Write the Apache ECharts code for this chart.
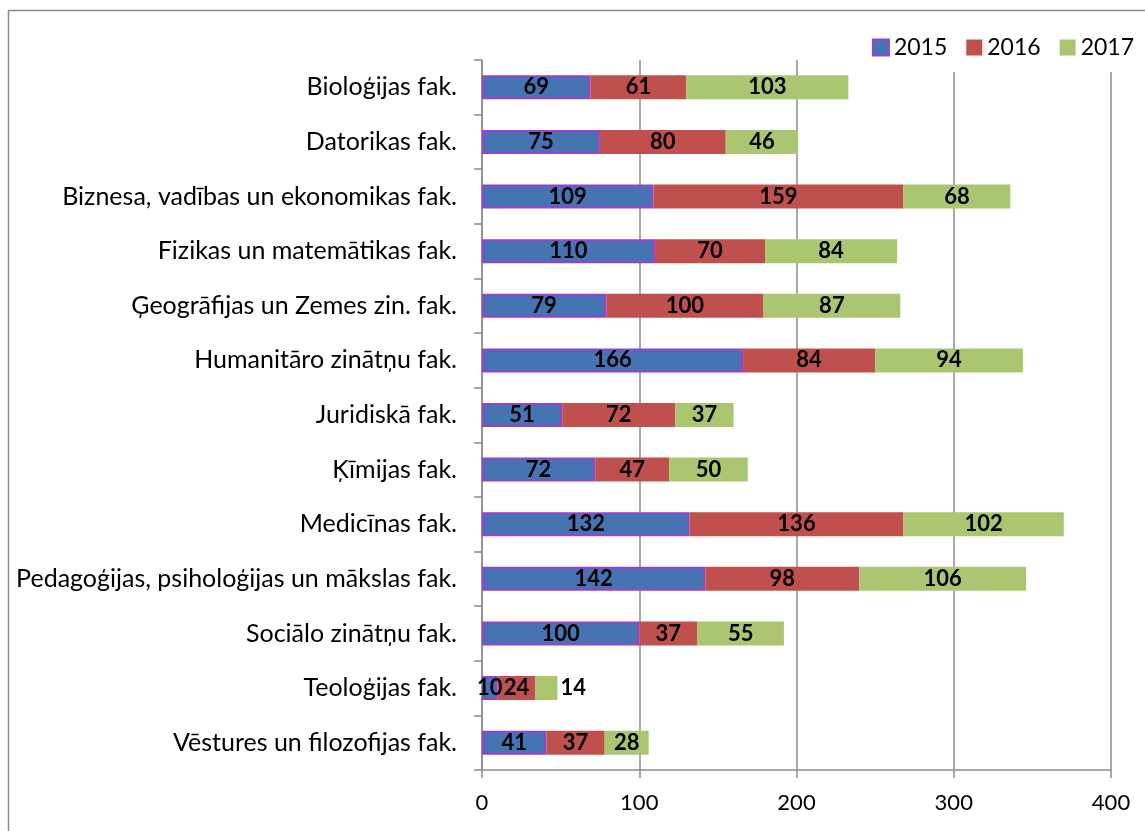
<!DOCTYPE html>
<html>
<head>
<meta charset="utf-8">
<script src="https://cdn.jsdelivr.net/npm/echarts@6/dist/echarts.min.js"></script>
<style>
  html, body { margin: 0; padding: 0; background: #fff; }
  #chart { width: 1145px; height: 831px; }
</style>
</head>
<body>
<div id="chart"></div>
<script>
// faculties, top to bottom
var categories = [
  'Bioloģijas fak.',
  'Datorikas fak.',
  'Biznesa, vadības un ekonomikas fak.',
  'Fizikas un matemātikas fak.',
  'Ģeogrāfijas un Zemes zin. fak.',
  'Humanitāro zinātņu fak.',
  'Juridiskā fak.',
  'Ķīmijas fak.',
  'Medicīnas fak.',
  'Pedagoģijas, psiholoģijas un mākslas fak.',
  'Sociālo zinātņu fak.',
  'Teoloģijas fak.',
  'Vēstures un filozofijas fak.'
]
var years = ['2015', '2016', '2017']
var values2015 = [69, 75, 109, 110, 79, 166, 51, 72, 132, 142, 100, 10, 41]
var values2016 = [61, 80, 159, 70, 100, 84, 72, 47, 136, 98, 37, 24, 37]
var values2017 = [103, 46, 68, 84, 87, 94, 37, 50, 102, 106, 55, 14, 28]
var xTicks = [0, 100, 200, 300, 400]

var colors = ['#4674B3', '#C0504D', '#AAC670']
var font = 'Lato, "Liberation Sans", sans-serif'
var axisGray = '#8C8C8C'

var chart = echarts.init(document.getElementById('chart'))

function makeSeries(name, values, i) {
  return {
    name: name,
    type: 'bar',
    stack: 'total',
    barWidth: 24,
    itemStyle: i === 0
      ? { color: colors[i], borderColor: '#9B3FD0', borderWidth: 2 }
      : { color: colors[i] },
    label: {
      show: true,
      position: 'inside',
      color: '#000',
      fontFamily: font,
      fontWeight: 'bold',
      fontSize: 22
    },
    data: values.map(function (v) {
      // tiny last segment: Excel pushed the label outside
      if (i === 2 && v < 20) {
        return { value: v, label: { position: 'right', distance: 3 } }
      }
      return v
    })
  }
}

chart.setOption({
  backgroundColor: '#fff',
  animation: false,
  textStyle: { fontFamily: font },
  graphic: [{
    type: 'rect',
    shape: { x: 8.5, y: 10.5, width: 1200, height: 900 },
    style: { fill: 'none', stroke: '#8C8C8C', lineWidth: 1.5 },
    z: -10
  }],
  legend: {
    data: years,
    right: 0,
    top: 28,
    padding: [8, 11, 13, 12],
    backgroundColor: '#fff',
    icon: 'rect',
    itemWidth: 16,
    itemHeight: 16,
    itemGap: 19,
    textStyle: { fontSize: 23, color: '#000', fontFamily: font }
  },
  grid: {
    left: 482,
    right: 34,
    top: 60,
    bottom: 61,
    containLabel: false
  },
  xAxis: {
    type: 'value',
    min: xTicks[0],
    max: xTicks[xTicks.length - 1],
    interval: 100,
    axisLine: { show: true, lineStyle: { color: axisGray, width: 1.5 } },
    axisTick: { show: true, length: 8, lineStyle: { color: axisGray, width: 1.5 } },
    splitLine: { show: true, lineStyle: { color: axisGray, width: 1.5 } },
    axisLabel: { color: '#000', fontSize: 22, margin: 22, fontFamily: font }
  },
  yAxis: {
    type: 'category',
    inverse: true,
    data: categories,
    axisLine: { show: true, lineStyle: { color: axisGray, width: 1.5 } },
    axisTick: { show: true, length: 8, lineStyle: { color: axisGray, width: 1.5 } },
    axisLabel: { color: '#000', fontSize: 25, margin: 25, fontFamily: font }
  },
  series: [
    makeSeries(years[0], values2015, 0),
    makeSeries(years[1], values2016, 1),
    makeSeries(years[2], values2017, 2)
  ]
})
</script>
</body>
</html>
